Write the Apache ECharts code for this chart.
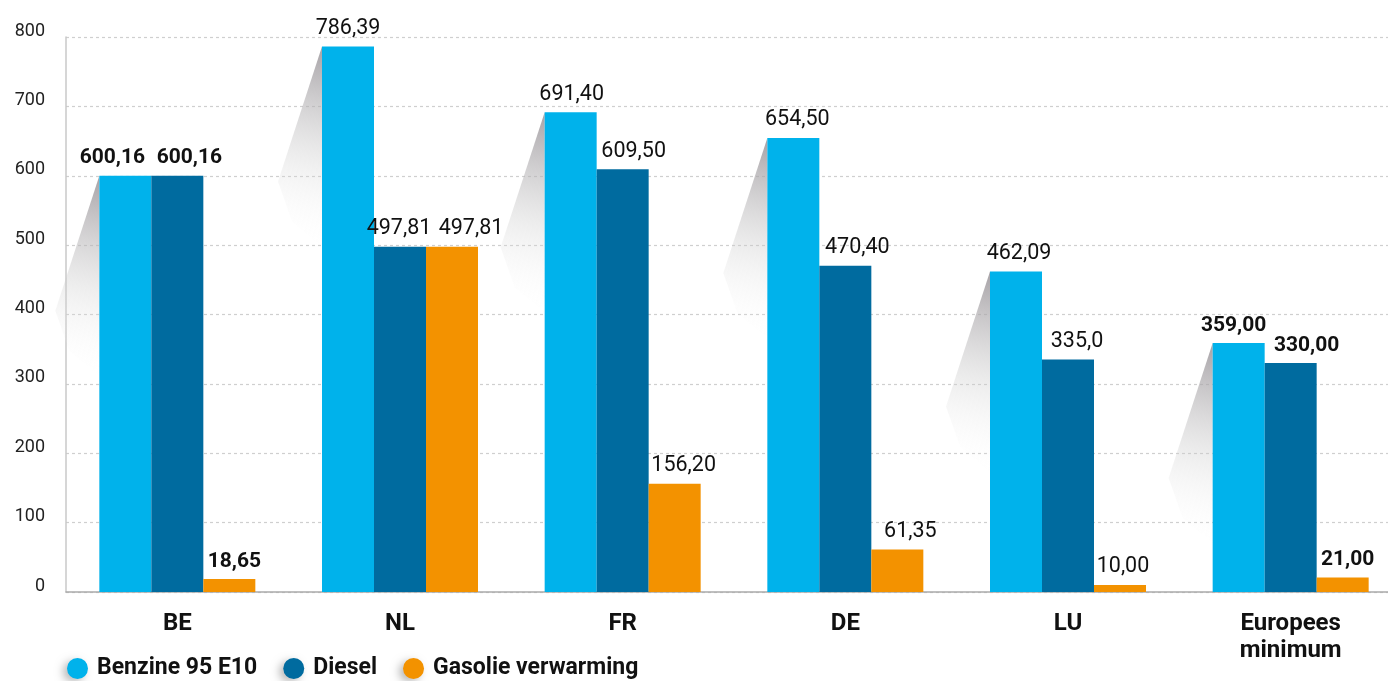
<!DOCTYPE html>
<html><head><meta charset="utf-8">
<script src="https://cdn.jsdelivr.net/npm/echarts@6/dist/echarts.min.js"></script>
<style>html,body{margin:0;padding:0;background:#fff;overflow:hidden}#c{width:1420px;height:681px}</style>
</head><body><div id="c"></div>
<script>
const categories = ['BE', 'NL', 'FR', 'DE', 'LU', 'Europees\nminimum'];
const benzine = [600.16, 786.39, 691.40, 654.50, 462.09, 359.00];
const diesel = [600.16, 497.81, 609.50, 470.40, 335.0, 330.00];
const gasolie = [18.65, 497.81, 156.20, 61.35, 10.00, 21.00];
const benzineLabels = ['600,16', '786,39', '691,40', '654,50', '462,09', '359,00'];
const dieselLabels = ['600,16', '497,81', '609,50', '470,40', '335,0', '330,00'];
const gasolieLabels = ['18,65', '497,81', '156,20', '61,35', '10,00', '21,00'];
const boldCats = [true, false, false, false, false, true];
const yTicks = [0, 100, 200, 300, 400, 500, 600, 700, 800];

// label style tweaks (horizontal shift of value labels, px)
const benzineShift = [-13, 0, 1, 4, 3, -5];
const dieselShift = [12, -1, 11, 12, 9, 16];
const gasolieShift = [5, 19, 9, 13, 3, 5];

const BAR_W = 52;
const FONT = 'Roboto';

function items(vals, labels, shift) {
  return vals.map((v, i) => ({
    value: v,
    label: {
      formatter: labels[i],
      fontWeight: boldCats[i] ? 'bold' : 'normal',
      fontSize: boldCats[i] ? 21 : 21.5,
      offset: [shift[i], 0]
    }
  }));
}

const valueLabel = { show: true, position: 'top', distance: 7, fontFamily: FONT, color: '#111' };

const chart = echarts.init(document.getElementById('c'));
chart.setOption({
  animation: false,
  textStyle: { fontFamily: FONT },
  grid: { left: 66, top: 37, width: 1336, height: 555, containLabel: false },
  legend: {
    data: ['Benzine 95 E10', 'Diesel', 'Gasolie verwarming'],
    left: 62, top: 652, icon: 'circle', itemWidth: 21, itemHeight: 21, itemGap: 26,
    itemStyle: { shadowColor: 'rgba(0,0,0,0.28)', shadowBlur: 8, shadowOffsetX: -4, shadowOffsetY: 3 },
    textStyle: { fontFamily: FONT, fontSize: 23, fontWeight: 'bold', color: '#111', padding: [0, 0, 0, 4] }
  },
  xAxis: {
    type: 'category', data: categories,
    axisLine: { lineStyle: { color: '#aaa', width: 1.5 } },
    axisTick: { show: false },
    axisLabel: { fontFamily: FONT, fontSize: 24, fontWeight: 'bold', color: '#111', margin: 18, lineHeight: 27 }
  },
  yAxis: {
    type: 'value', min: 0, max: 800, interval: 100,
    axisLine: { show: true, lineStyle: { color: '#c8c8c8', width: 1.5 } },
    axisTick: { show: false },
    axisLabel: { fontFamily: FONT, fontSize: 18, color: '#222', margin: 21,
      verticalAlign: 'bottom', lineHeight: 12,
      formatter: v => yTicks.includes(v) ? String(v) : '' },
    splitLine: { lineStyle: { color: '#cfcfcf', type: [3, 3], width: 1.2 } }
  },
  series: [
    {
      type: 'custom', name: 'shadow', z: 1, silent: true,
      data: benzine.map((v, i) => [i, v]),
      renderItem: function (params, api) {
        const p = api.coord([api.value(0), api.value(1)]);
        const x0 = p[0] - 1.5 * BAR_W;
        const y0 = p[1];
        return {
          type: 'polygon',
          shape: { points: [[x0, y0], [x0 - 44, y0 + 135], [x0 - 30, y0 + 175], [x0, y0 + 200]] },
          style: {
            fill: new echarts.graphic.LinearGradient(1, 0, 0, 1, [
              { offset: 0, color: 'rgba(150,145,150,0.85)' },
              { offset: 0.55, color: 'rgba(205,205,205,0.35)' },
              { offset: 1, color: 'rgba(255,255,255,0)' }
            ])
          }
        };
      }
    },
    {
      name: 'Benzine 95 E10', type: 'bar', barWidth: BAR_W, barGap: 0, z: 2,
      itemStyle: { color: '#00B2EB' }, label: valueLabel,
      data: items(benzine, benzineLabels, benzineShift)
    },
    {
      name: 'Diesel', type: 'bar', barWidth: BAR_W, barGap: 0, z: 2,
      itemStyle: { color: '#006B9F' }, label: valueLabel,
      data: items(diesel, dieselLabels, dieselShift)
    },
    {
      name: 'Gasolie verwarming', type: 'bar', barWidth: BAR_W, barGap: 0, z: 2,
      itemStyle: { color: '#F39200' }, label: valueLabel,
      data: items(gasolie, gasolieLabels, gasolieShift)
    }
  ]
});
</script></body></html>
